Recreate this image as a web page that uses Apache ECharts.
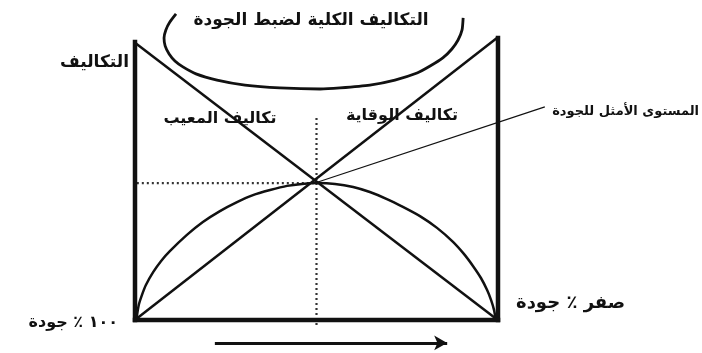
<!DOCTYPE html>
<html>
<head>
<meta charset="utf-8">
<script src="https://cdn.jsdelivr.net/npm/echarts@6/dist/echarts.min.js"></script>
<style>
html, body { margin: 0; padding: 0; background: #fff; }
#chart { width: 702px; height: 353px; }
</style>
</head>
<body>
<div id="chart"></div>
<script>
// x: مستوى الجودة (0..100), y: التكاليف (0..100)
var boxLeft = [[0, 0], [0, 99.3]];
var boxRight = [[100, 0], [100, 100.7]];
var boxBottom = [[0, 0], [100, 0]];
var failureCost = [[0, 99], [99.2, 0.7]];          // تكاليف المعيب
var preventionCost = [[0.5, 0.5], [99.7, 100.7]];  // تكاليف الوقاية
var qualityCurve = [
    [0.4, 0], [0.7, 2.9], [1.1, 5.7], [1.9, 8.9], [3.0, 12.5], [5.0, 17.1],
    [7.2, 21.1], [9.6, 24.6], [14.3, 30.4], [18.7, 35], [23.4, 38.9],
    [28.1, 42.1], [32.5, 44.6], [37.2, 46.4], [41.9, 47.9], [46, 48.6],
    [50.1, 48.9], [55.1, 48.6], [60.1, 47.5], [64.7, 45.7], [69.4, 43.2],
    [73.8, 40.4], [78.5, 37.1], [83.2, 32.9], [87.6, 27.9], [90.6, 23.6],
    [93.1, 19.3], [95.3, 15], [97, 10.7], [98.1, 7.1], [98.9, 3.6], [99.4, 0]
];
var totalArc = [
    [11.3, 109.3], [9.6, 106.4], [8.5, 103.6], [8.0, 100.7], [8.3, 97.9],
    [9.4, 95], [11, 92.5], [13.2, 90.4], [16.8, 87.9], [22.6, 85.7],
    [30.3, 83.9], [39.9, 82.9], [51, 82.5], [56.5, 82.9], [64.7, 83.9],
    [71.6, 85.7], [77.7, 88.2], [81.3, 90.7], [84.8, 93.6], [87.3, 96.8],
    [89, 100], [90.1, 103.6], [90.4, 107.9]
];
var optimumV = [[50, 72.1], [50, -1.8]];
var optimumH = [[0.5, 48.9], [50, 48.9]];
var leader = [[50.4, 49.3], [112.9, 76.1]];
var arrowFrom = [22, -8.2];
var arrowTo = [86, -8.2];

var labels = {
    total: 'التكاليف الكلية لضبط الجودة',
    costs: 'التكاليف',
    failure: 'تكاليف المعيب',
    prevention: 'تكاليف الوقاية',
    optimum: 'المستوى الأمثل للجودة',
    full: '١٠٠ ٪ جودة',
    zero: 'صفر ٪ جودة'
};

var font = 'DejaVu Sans';
var ink = '#111';

function txt(text, x, y, size, align) {
    return {
        type: 'text',
        x: x, y: y,
        style: {
            text: text,
            fill: ink,
            font: 'bold ' + size + 'px "' + font + '"',
            align: align || 'center',
            verticalAlign: 'middle'
        }
    };
}

function plain(name, data, width, type, color, cap) {
    return {
        name: name,
        type: 'line',
        data: data,
        clip: false,
        showSymbol: false,
        silent: true,
        lineStyle: { color: color || ink, width: width, type: type || 'solid', cap: cap || 'butt' }
    };
}

var hiddenAxis = {
    type: 'value',
    axisLine: { show: false }, axisTick: { show: false },
    axisLabel: { show: false }, splitLine: { show: false }
};

var chart = echarts.init(document.getElementById('chart'));
chart.setOption({
    animation: false,
    backgroundColor: '#fff',
    // the grid fills the page; 0..100 on each axis is the drawn box
    grid: { left: 0, right: 0, top: 0, bottom: 0 },
    xAxis: Object.assign({}, hiddenAxis, { min: -37.19, max: 156.2 }),
    yAxis: Object.assign({}, hiddenAxis, { min: -11.79, max: 114.29 }),
    series: [
        plain('optV', optimumV, 2.2, [2, 3], '#333'),
        plain('optH', optimumH, 2.2, [2, 3], '#333'),
        plain('failure', failureCost, 2.5),
        plain('prevention', preventionCost, 2.5),
        Object.assign(plain('quality', qualityCurve, 2.5), { smooth: 0.2 }),
        Object.assign(plain('total', totalArc, 2.8), { smooth: 0.2 }),
        plain('leader', leader, 1.2),
        plain('boxLeft', boxLeft, 4.5, null, null, 'square'),
        plain('boxRight', boxRight, 4.5, null, null, 'square'),
        plain('boxBottom', boxBottom, 4.5, null, null, 'square'),
        {
            name: 'arrow',
            type: 'line',
            data: [],
            silent: true,
            markLine: {
                silent: true,
                symbol: ['none', 'arrow'],
                symbolSize: [11, 13],
                label: { show: false },
                lineStyle: { color: ink, width: 3, type: 'solid' },
                data: [[{ coord: arrowFrom }, { coord: arrowTo }]]
            }
        }
    ],
    graphic: [
        txt(labels.total, 311, 21, 17),
        txt(labels.costs, 129, 63, 17, 'right'),
        txt(labels.failure, 220, 119, 16),
        txt(labels.prevention, 402, 116, 16),
        txt(labels.optimum, 699, 112, 13, 'right'),
        txt(labels.full, 118, 323, 16, 'right'),
        txt(labels.zero, 516, 303, 18, 'left')
    ]
});
</script>
</body>
</html>
